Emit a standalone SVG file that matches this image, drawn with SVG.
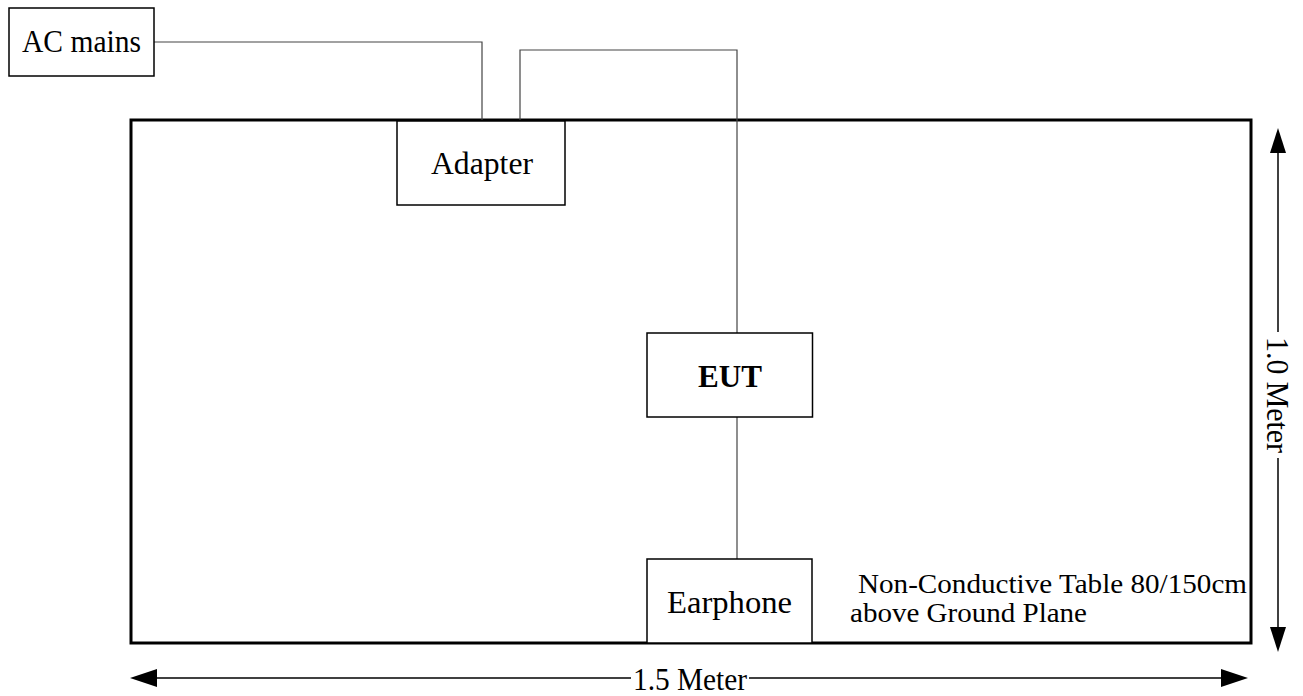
<svg xmlns="http://www.w3.org/2000/svg" width="1303" height="696" viewBox="0 0 1303 696">
<defs>
<style>
.box{fill:#fff;stroke:#000;stroke-width:1.5}
.wire{fill:none;stroke:#444;stroke-width:1.2}
.dim{fill:none;stroke:#000;stroke-width:1.5}
.lbl{font-family:"Liberation Serif","Times New Roman",serif;font-size:32px;fill:#000}
.note{font-family:"Liberation Serif","Times New Roman",serif;font-size:28px;fill:#000}
.dimtxt{font-family:"Liberation Serif","Times New Roman",serif;font-size:31px;fill:#000}
</style>
</defs>
<rect width="1303" height="696" fill="#fff"/>
<g id="table">
<rect x="131" y="120" width="1120" height="523" fill="none" stroke="#000" stroke-width="3"/>
<text class="note" x="858" y="593" textLength="389" lengthAdjust="spacingAndGlyphs">Non-Conductive Table 80/150cm</text>
<text class="note" x="850" y="622" textLength="237" lengthAdjust="spacingAndGlyphs">above Ground Plane</text>
</g>
<g id="connectors">
<polyline class="wire" points="154,42 482,42 482,120"/>
<polyline class="wire" points="520,120 520,50 737,50 737,333"/>
<line class="wire" x1="737" y1="417" x2="737" y2="559"/>
</g>
<g id="ac-mains">
<rect class="box" x="9" y="8" width="145" height="68"/>
<text class="lbl" x="22" y="52" textLength="119" lengthAdjust="spacingAndGlyphs">AC mains</text>
</g>
<g id="adapter">
<rect class="box" x="397" y="121" width="168" height="84"/>
<text class="lbl" x="431" y="174" textLength="102" lengthAdjust="spacingAndGlyphs">Adapter</text>
</g>
<g id="eut">
<rect class="box" x="647" y="333" width="165.5" height="84"/>
<text class="lbl" x="698" y="387" font-weight="bold" textLength="64" lengthAdjust="spacingAndGlyphs">EUT</text>
</g>
<g id="earphone">
<rect class="box" x="647" y="559" width="165" height="84"/>
<text class="lbl" x="667" y="613" textLength="125" lengthAdjust="spacingAndGlyphs">Earphone</text>
</g>
<g id="dimensions">
<line class="dim" x1="157" y1="678" x2="631" y2="678"/>
<line class="dim" x1="749" y1="678" x2="1221" y2="678"/>
<polygon points="130,678 157,669 157,687" fill="#000"/>
<polygon points="1248,678 1221,669 1221,687" fill="#000"/>
<text class="dimtxt" x="633" y="690" textLength="114" lengthAdjust="spacingAndGlyphs">1.5 Meter</text>
<line class="dim" x1="1278" y1="152" x2="1278" y2="332"/>
<line class="dim" x1="1278" y1="458" x2="1278" y2="627"/>
<polygon points="1278,128 1270,153 1286,153" fill="#000"/>
<polygon points="1278,652 1270,627 1286,627" fill="#000"/>
<text class="dimtxt" x="0" y="0" textLength="116" lengthAdjust="spacingAndGlyphs" transform="translate(1267,337) rotate(90)">1.0 Meter</text>
</g>
</svg>
